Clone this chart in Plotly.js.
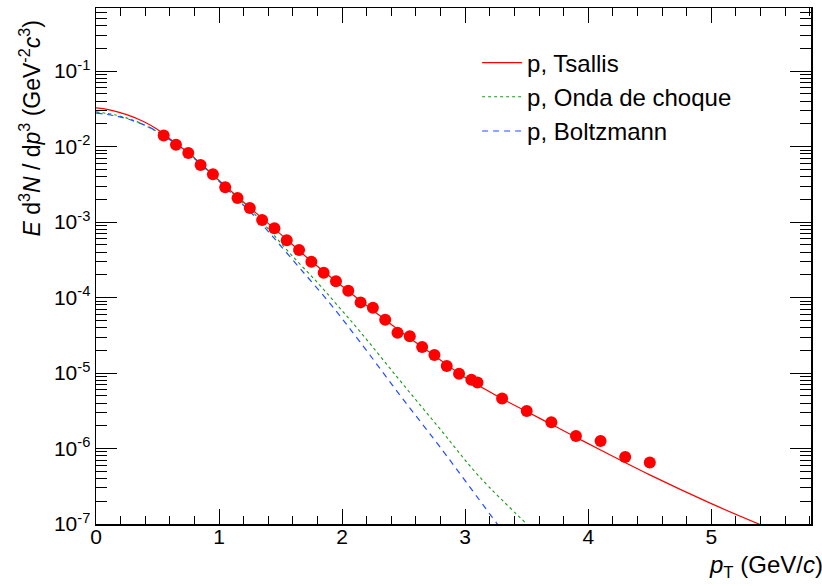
<!DOCTYPE html>
<html>
<head>
<meta charset="utf-8">
<script src="https://cdn.plot.ly/plotly-3.0.1.min.js"></script>
<style>html,body{margin:0;padding:0;background:#fff;}</style>
</head>
<body>
<div id="chart" style="width:822px;height:586px;"></div>
<script>
// Data points (proton spectrum)
const dataPt = [0.55,0.65,0.75,0.85,0.95,1.05,1.15,1.25,1.35,1.45,1.55,1.65,1.75,1.85,1.95,2.05,2.15,2.25,2.35,2.45,2.55,2.65,2.75,2.85,2.95,3.05,3.10,3.30,3.50,3.70,3.90,4.10,4.30,4.50];
const dataYield = [0.0140,0.01055,0.00824,0.00571,0.00431,0.00290,0.00209,0.00154,0.001067,8.28e-4,5.74e-4,4.27e-4,2.99e-4,2.13e-4,1.64e-4,1.23e-4,8.63e-5,7.33e-5,5.08e-5,3.41e-5,3.08e-5,2.22e-5,1.73e-5,1.24e-5,9.75e-6,8.13e-6,7.50e-6,4.60e-6,3.13e-6,2.23e-6,1.46e-6,1.26e-6,7.74e-7,6.52e-7];

// Tsallis curve
const tsallisPt = [0,0.1,0.25,0.39,0.5,0.65,0.75,1.0,1.25,1.5,1.75,2.0,2.25,2.5,2.75,3.0,3.3,3.5,3.7,3.9,4.1,4.5,5.0,5.4];
const tsallisY = [0.0326,0.0309,0.0265,0.0213,0.0168,0.01096,0.00832,0.00355,0.00155,6.92e-4,3.02e-4,1.41e-4,6.76e-5,3.31e-5,1.70e-5,8.71e-6,4.57e-6,3.09e-6,2.09e-6,1.41e-6,9.55e-7,4.47e-7,1.86e-7,9.77e-8];

// Onda de choque (blast wave) curve
const ondaPt = [0,0.17,0.31,0.43,0.55,0.75,1.0,1.25,1.4,1.576,1.793,1.955,2.145,2.47,2.795,3.119,3.52];
const ondaY = [0.0288,0.0260,0.0221,0.0180,0.0140,0.00824,0.00355,0.00148,8.13e-4,3.85e-4,1.62e-4,8.13e-5,3.55e-5,7.94e-6,1.82e-6,4.17e-7,9.33e-8];

// Boltzmann curve
const boltzPt = [0,0.17,0.31,0.43,0.55,0.75,1.0,1.2,1.305,1.413,1.495,1.657,1.901,2.145,2.47,2.795,3.255,3.29];
const boltzY = [0.0277,0.0253,0.0217,0.0181,0.0140,0.00813,0.00347,0.00166,0.00112,7.10e-4,4.97e-4,2.44e-4,8.38e-5,2.59e-5,5.09e-6,1.05e-6,1.03e-7,8.71e-8];

const xTicks = [0,1,2,3,4,5];
const yTickVals = [1e-7,1e-6,1e-5,1e-4,1e-3,1e-2,1e-1];
const yTickText = ['10<sup>-7</sup>','10<sup>-6</sup>','10<sup>-5</sup>','10<sup>-4</sup>','10<sup>-3</sup>','10<sup>-2</sup>','10<sup>-1</sup>'];

const yMinor = [];
for (let e = -7; e <= -1; e++) {
  for (let d = 2; d <= 9; d++) { yMinor.push(d * Math.pow(10, e)); }
}

const FONT = 'Liberation Sans, Arial, Helvetica, sans-serif';
const FS = 24;
const TFS = 21;

const traces = [
  {x: tsallisPt, y: tsallisY, mode: 'lines', name: 'p, Tsallis',
   line: {color: '#ff0000', width: 1.2, shape: 'spline'}, legendgroup: 'a'},
  {x: ondaPt, y: ondaY, mode: 'lines', name: 'p, Onda de choque',
   line: {color: '#1a9a1a', width: 1.1, dash: '3px,3px', shape: 'spline'}, legendgroup: 'b'},
  {x: boltzPt, y: boltzY, mode: 'lines', name: 'p, Boltzmann',
   line: {color: '#1f4fff', width: 1.2, dash: '6px,5px', shape: 'spline'}, legendgroup: 'c'},
  {x: dataPt, y: dataYield, mode: 'markers', name: 'data', showlegend: false,
   marker: {color: '#ff0000', size: 12, line: {width: 0}}}
];

const layout = {
  width: 822, height: 586,
  margin: {l: 96, r: 11, t: 8, b: 62},
  paper_bgcolor: '#ffffff', plot_bgcolor: '#ffffff',
  font: {family: FONT, size: FS, color: '#000'},
  showlegend: true,
  legend: {x: 0.533, y: 0.937, xanchor: 'left', yanchor: 'top', bgcolor: 'rgba(0,0,0,0)',
           font: {family: FONT, size: FS}, traceorder: 'grouped', tracegroupgap: 0, itemwidth: 40},
  xaxis: {
    range: [0, 5.81], tickmode: 'array', tickvals: xTicks, ticktext: xTicks.map(String),
    ticks: 'inside', ticklen: 15, tickwidth: 1, tickcolor: '#000', ticklabelstandoff: -7,
    minor: {ticks: 'inside', ticklen: 8, dtick: 0.2, tick0: 0, tickwidth: 1, tickcolor: '#000'},
    showline: true, linecolor: '#000', linewidth: 1.5, mirror: 'ticks',
    showgrid: false, zeroline: false, tickfont: {family: FONT, size: TFS}
  },
  yaxis: {
    type: 'log', range: [-7, -0.164], tickmode: 'array', tickvals: yTickVals, ticktext: yTickText,
    ticks: 'inside', ticklen: 21, tickwidth: 1, tickcolor: '#000',
    minor: {ticks: 'inside', ticklen: 11, tickmode: 'array', tickvals: yMinor, tickwidth: 1, tickcolor: '#000'},
    showline: true, linecolor: '#000', linewidth: 1.5, mirror: 'ticks',
    showgrid: false, zeroline: false, tickfont: {family: FONT, size: TFS}
  },
  annotations: [
    {text: '<i>E</i> d<sup>3</sup><i>N</i> / d<i>p</i><sup>3</sup> (GeV<sup>-2</sup><i>c</i><sup>3</sup>)',
     xref: 'paper', yref: 'paper', x: -0.092, y: 0.98, xanchor: 'center', yanchor: 'top',
     textangle: -90, showarrow: false, font: {family: FONT, size: 23}},
    {text: '<i>p</i><sub>T</sub> (GeV/<i>c</i>)',
     xref: 'paper', yref: 'paper', x: 1.019, y: -0.083, xanchor: 'right', yanchor: 'middle',
     showarrow: false, font: {family: FONT, size: FS}}
  ]
};

Plotly.newPlot('chart', traces, layout, {displayModeBar: false, staticPlot: true});
</script>
</body>
</html>
